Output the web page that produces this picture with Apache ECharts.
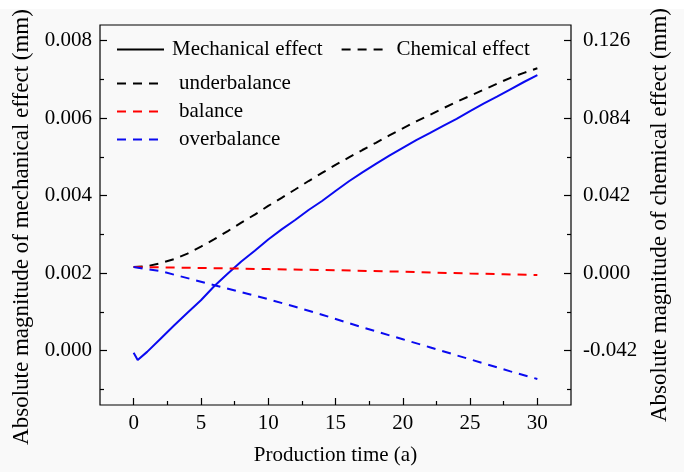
<!DOCTYPE html>
<html>
<head>
<meta charset="utf-8">
<script src="https://cdn.jsdelivr.net/npm/echarts@6/dist/echarts.min.js"></script>
<style>
  html, body { margin: 0; padding: 0; background: #f9f9f9; }
  #chart { width: 684px; height: 472px; }
</style>
</head>
<body>
<div id="chart"></div>
<script>
// Mechanical effect (left axis, mm)
const mechYears = [0, 0.3, 1, 2, 3, 4, 5, 6, 7, 8, 9, 10, 11, 12, 13, 14, 15, 16, 17, 18, 19, 20, 21, 22, 23, 24, 25, 26, 27, 28, 29, 30];
const mechanicalEffect = [-0.00005, -0.00024, -0.00003, 0.00031, 0.00065, 0.00098, 0.00130, 0.00167, 0.00199, 0.00230, 0.00258, 0.00287, 0.00313, 0.00337, 0.00363, 0.00386, 0.00412, 0.00437, 0.00460, 0.00482, 0.00503, 0.00523, 0.00543, 0.00561, 0.00580, 0.00598, 0.00618, 0.00637, 0.00655, 0.00674, 0.00693, 0.00711];

// Chemical effect (right axis, mm)
const underYears = [0, 1, 2, 3, 4, 5, 6, 7, 8, 9, 10, 11, 12, 13, 14, 15, 16, 17, 18, 19, 20, 21, 22, 23, 24, 25, 26, 27, 28, 29, 30];
const underbalance = [0.0033, 0.0038, 0.0054, 0.0076, 0.0106, 0.0144, 0.0184, 0.0228, 0.0274, 0.0317, 0.0364, 0.0408, 0.0453, 0.0499, 0.0543, 0.0586, 0.0627, 0.0667, 0.0706, 0.0746, 0.0784, 0.0822, 0.0857, 0.0893, 0.0928, 0.0960, 0.0993, 0.1026, 0.1058, 0.1085, 0.1110];

const balanceYears = [0, 2.5, 5, 7.5, 10, 12.5, 15, 17.5, 20, 22.5, 25, 27.5, 30];
const balance = [0.0033, 0.0031, 0.0028, 0.0025, 0.0022, 0.0019, 0.0016, 0.0012, 0.0008, 0.0003, -0.0002, -0.0006, -0.0010];

const overYears = [0, 2, 4, 6, 8, 10, 12, 14, 16, 18, 20, 22, 24, 26, 28, 30];
const overbalance = [0.0033, 0.0011, -0.0027, -0.0065, -0.0103, -0.0141, -0.0182, -0.0225, -0.0271, -0.0315, -0.0358, -0.0401, -0.0445, -0.0488, -0.0532, -0.0573];

// Tick positions
const xTicks = [0, 5, 10, 15, 20, 25, 30];
const xMinorTicks = [2.5, 7.5, 12.5, 17.5, 22.5, 27.5];
const leftTicks = [0, 0.002, 0.004, 0.006, 0.008];
const leftMinorTicks = [-0.001, 0.001, 0.003, 0.005, 0.007];
const rightTicks = [-0.042, 0, 0.042, 0.084, 0.126];
const rightMinorTicks = [-0.063, -0.021, 0.021, 0.063, 0.105];

const FONT = 'Liberation Serif';
const FS = 21;
const TITLE_FS = 23;

function pairs(xs, ys) {
  return xs.map((x, i) => [x, ys[i]]);
}

const DASH = [9, 7];

const chart = echarts.init(document.getElementById('chart'));

const baseAxis = {
  type: 'value',
  splitLine: { show: false },
  axisLine: { onZero: false, show: false },
};

const legendCommon = {
  padding: 0,
  itemWidth: 47, itemHeight: 14,
  selectedMode: false,
  itemStyle: { opacity: 0, borderWidth: 0 },
};

chart.setOption({
  backgroundColor: '#f9f9f9',
  animation: false,
  graphic: [
    { type: 'rect', left: 0, top: 0, shape: { width: 684, height: 9 }, style: { fill: '#ffffff' }, silent: true }
  ],
  grid: {
    left: 100, right: 113, top: 25, bottom: 67,
    show: true, borderColor: '#000', borderWidth: 1.2, backgroundColor: 'transparent'
  },
  legend: [
    Object.assign({}, legendCommon, {
      data: ['Mechanical effect', 'Chemical effect'],
      orient: 'horizontal',
      left: 116, top: 39,
      itemGap: 18,
      textStyle: { fontFamily: FONT, fontSize: FS, color: '#000', padding: [0, 0, 0, 3] }
    }),
    Object.assign({}, legendCommon, {
      data: ['underbalance', 'balance', 'overbalance'],
      orient: 'vertical',
      left: 116, top: 73,
      itemGap: 7,
      textStyle: { fontFamily: FONT, fontSize: FS, color: '#000', padding: [0, 0, 0, 10] }
    })
  ],
  xAxis: [
    Object.assign({}, baseAxis, {
      min: -2.5, max: 32.5,
      position: 'bottom',
      name: 'Production time (a)',
      nameLocation: 'middle',
      nameGap: 40,
      nameTextStyle: { fontFamily: FONT, fontSize: FS, color: '#000' },
      axisTick: { show: true, inside: true, length: 7, customValues: xTicks, lineStyle: { color: '#000', width: 1.2 } },
      axisLabel: { customValues: xTicks, margin: 8, fontFamily: FONT, fontSize: FS, color: '#000' }
    }),
    Object.assign({}, baseAxis, {
      min: -2.5, max: 32.5,
      position: 'bottom',
      axisTick: { show: true, inside: true, length: 4, customValues: xMinorTicks, lineStyle: { color: '#000', width: 1.2 } },
      axisLabel: { show: false }
    })
  ],
  yAxis: [
    Object.assign({}, baseAxis, {
      min: -0.0014, max: 0.0084,
      position: 'left',
      name: 'Absolute magnitude of mechanical effect (mm)',
      nameLocation: 'middle',
      nameGap: 60,
      nameTextStyle: { fontFamily: FONT, fontSize: TITLE_FS, color: '#000', padding: [0, 24, 0, 0] },
      axisTick: { show: true, inside: true, length: 7, customValues: leftTicks, lineStyle: { color: '#000', width: 1.2 } },
      axisLabel: { customValues: leftTicks, margin: 8, fontFamily: FONT, fontSize: FS, color: '#000',
        formatter: v => v.toFixed(3) }
    }),
    Object.assign({}, baseAxis, {
      min: -0.0714, max: 0.1344,
      position: 'right',
      name: 'Absolute magnitude of chemical effect (mm)',
      nameLocation: 'middle',
      nameGap: 75,
      nameTextStyle: { fontFamily: FONT, fontSize: TITLE_FS, color: '#000' },
      axisTick: { show: true, inside: true, length: 7, customValues: rightTicks, lineStyle: { color: '#000', width: 1.2 } },
      axisLabel: { customValues: rightTicks, margin: 12, fontFamily: FONT, fontSize: FS, color: '#000',
        formatter: v => v.toFixed(3) }
    }),
    Object.assign({}, baseAxis, {
      min: -0.0014, max: 0.0084,
      position: 'left',
      axisTick: { show: true, inside: true, length: 4, customValues: leftMinorTicks, lineStyle: { color: '#000', width: 1.2 } },
      axisLabel: { show: false }
    }),
    Object.assign({}, baseAxis, {
      min: -0.0714, max: 0.1344,
      position: 'right',
      axisTick: { show: true, inside: true, length: 4, customValues: rightMinorTicks, lineStyle: { color: '#000', width: 1.2 } },
      axisLabel: { show: false }
    })
  ],
  series: [
    {
      name: 'mechanical',
      type: 'line', xAxisIndex: 0, yAxisIndex: 0,
      symbol: 'none',
      data: pairs(mechYears, mechanicalEffect),
      lineStyle: { color: '#0a0af0', width: 2 },
      itemStyle: { color: '#0a0af0' }
    },
    {
      name: 'underbalance',
      type: 'line', xAxisIndex: 0, yAxisIndex: 1,
      symbol: 'none',
      data: pairs(underYears, underbalance),
      lineStyle: { color: '#000000', width: 2, type: DASH },
      itemStyle: { color: '#000000' }
    },
    {
      name: 'balance',
      type: 'line', xAxisIndex: 0, yAxisIndex: 1,
      symbol: 'none',
      data: pairs(balanceYears, balance),
      lineStyle: { color: '#ff0000', width: 2, type: DASH },
      itemStyle: { color: '#ff0000' }
    },
    {
      name: 'overbalance',
      type: 'line', xAxisIndex: 0, yAxisIndex: 1,
      symbol: 'none',
      data: pairs(overYears, overbalance),
      lineStyle: { color: '#0a0af0', width: 2, type: DASH },
      itemStyle: { color: '#0a0af0' }
    },
    // Legend-only entries describing the line styles
    {
      name: 'Mechanical effect',
      type: 'line', xAxisIndex: 0, yAxisIndex: 0,
      symbol: 'none', data: [],
      lineStyle: { color: '#000000', width: 2 },
      itemStyle: { color: '#000000' }
    },
    {
      name: 'Chemical effect',
      type: 'line', xAxisIndex: 0, yAxisIndex: 1,
      symbol: 'none', data: [],
      lineStyle: { color: '#000000', width: 2, type: DASH },
      itemStyle: { color: '#000000' }
    }
  ]
});
</script>
</body>
</html>
